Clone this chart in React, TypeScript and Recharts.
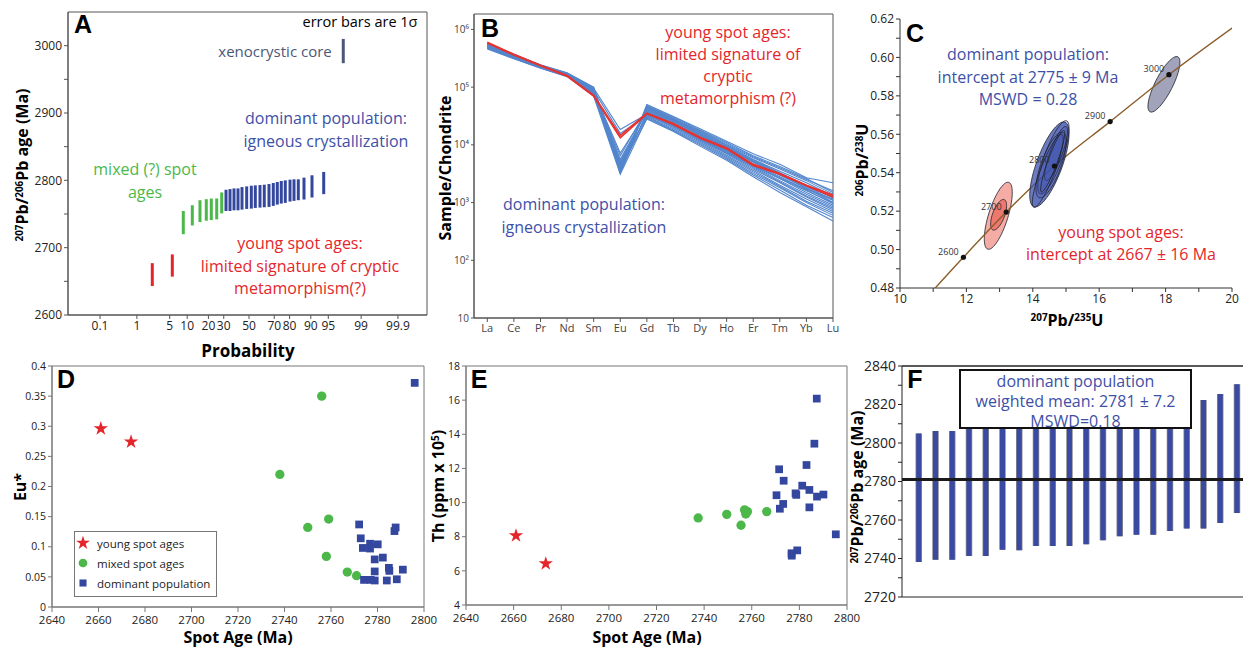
import React from 'react';
import {
  ScatterChart,
  Scatter,
  LineChart,
  Line,
  XAxis,
  YAxis,
  ErrorBar,
  ReferenceLine,
  ReferenceArea,
  Legend,
  Symbols,
} from 'recharts';

const FONT = '"Open Sans", "Noto Sans", sans-serif';
const LETTER_FONT = '"Liberation Sans", Arial, sans-serif';
const RED = '#e4262b';
const GREEN = '#4cb84a';
const BLUE = '#34479e';
const TEXT_BLUE = '#3d50a8';
const SLATE = '#4b5878';

// ---------- A: probability plot ----------
const PROB_LABELS = ['0.1', '1', '5', '10', '20', '30', '50', '70', '80', '90', '95', '99', '99.9'];
const PROB_Z = [-3.09, -2.326, -1.645, -1.282, -0.842, -0.524, 0, 0.524, 0.842, 1.282, 1.645, 2.326, 3.09];
const A_Y_TICKS = [2600, 2650, 2700, 2750, 2800, 2850, 2900, 2950, 3000];

const A_YOUNG_Z = [-2.006, -1.591];
const A_YOUNG_LOW = [2643, 2657];
const A_YOUNG_HIGH = [2677, 2690];

const A_MIXED_Z = [-1.363, -1.176, -1.017, -0.886, -0.782, -0.67, -0.566];
const A_MIXED_LOW = [2720, 2733, 2738, 2740, 2741, 2742, 2751];
const A_MIXED_HIGH = [2754.5, 2763, 2770.5, 2772, 2773, 2773, 2782];

const A_DOM_Z = [-0.477, -0.394, -0.311, -0.228, -0.145, -0.048, 0.048, 0.131, 0.228, 0.317, 0.415,
  0.504, 0.587, 0.67, 0.753, 0.851, 0.934, 1.023, 1.141, 1.307, 1.55];
const A_DOM_LOW = [2754.5, 2754.5, 2755.5, 2755.5, 2756.5, 2757.5, 2758, 2759, 2759.5, 2760, 2760.5,
  2762, 2764, 2765.5, 2766.5, 2768.5, 2769.5, 2770.5, 2771.5, 2774.5, 2779.5];
const A_DOM_HIGH = [2786, 2787, 2788, 2788, 2790, 2791, 2792, 2792.5, 2793, 2793.5, 2794.5,
  2796, 2797.5, 2799, 2800, 2801, 2801.5, 2801.5, 2804, 2807.5, 2812.5];

const A_XENO_Z = [1.956];
const A_XENO_LOW = [2974];
const A_XENO_HIGH = [3010];

// ---------- B: REE patterns ----------
const REE = ['La', 'Ce', 'Pr', 'Nd', 'Sm', 'Eu', 'Gd', 'Tb', 'Dy', 'Ho', 'Er', 'Tm', 'Yb', 'Lu'];
const B_Y_TICKS = [10, 100, 1000, 10000, 100000, 1000000];
const B_Y_LABELS = ['10', '10²', '10³', '10⁴', '10⁵', '10⁶'];

const B_BLUE = [
  [560000, 360000, 240000, 175000, 100000, 3200, 50000, 31000, 19000, 11500, 7000, 4600, 2700, 2200],
  [540000, 350000, 235000, 170000, 95000, 3500, 48000, 30000, 18000, 11000, 6500, 4200, 2600, 1500],
  [520000, 340000, 230000, 168000, 90000, 3800, 46000, 28000, 17000, 10000, 6000, 3800, 2400, 1400],
  [500000, 330000, 225000, 165000, 88000, 4000, 45000, 27000, 16000, 9500, 5600, 3500, 2200, 1300],
  [580000, 370000, 245000, 178000, 98000, 4200, 44000, 27500, 16500, 9800, 5500, 3300, 2000, 1200],
  [510000, 335000, 228000, 166000, 85000, 4500, 42000, 26000, 15000, 9000, 5200, 3100, 1900, 1100],
  [490000, 325000, 220000, 160000, 82000, 4800, 40000, 25000, 14500, 8600, 5000, 3000, 1800, 1000],
  [530000, 345000, 232000, 168000, 86000, 5200, 39000, 24000, 14000, 8200, 4700, 2800, 1650, 950],
  [550000, 355000, 238000, 172000, 92000, 5600, 38000, 23500, 13500, 8000, 4500, 2600, 1500, 900],
  [500000, 330000, 224000, 163000, 84000, 7200, 37000, 23000, 13000, 7600, 4200, 2400, 1400, 850],
  [480000, 320000, 218000, 158000, 80000, 3300, 36000, 22000, 12500, 7200, 4000, 2300, 1300, 800],
  [520000, 338000, 229000, 165000, 78000, 3600, 35000, 21000, 12000, 7000, 3800, 2200, 1250, 750],
  [505000, 332000, 226000, 162000, 76000, 4100, 33000, 20000, 11500, 6600, 3600, 2000, 1150, 700],
  [470000, 315000, 215000, 155000, 74000, 4400, 31000, 19000, 11000, 6300, 3400, 1900, 1050, 650],
  [490000, 322000, 219000, 158000, 72000, 5000, 30000, 18000, 10500, 6000, 3200, 1800, 1000, 600],
  [460000, 310000, 212000, 152000, 70000, 3100, 29000, 17500, 10000, 5700, 3000, 1650, 900, 550],
  [475000, 318000, 216000, 156000, 71000, 3900, 28000, 17000, 9500, 5400, 2800, 1500, 850, 480],
  [530000, 345000, 233000, 170000, 96000, 18500, 34000, 22000, 13000, 7800, 4400, 2700, 1700, 1100],
  [515000, 338000, 228000, 166000, 88000, 15800, 32000, 21000, 12500, 7400, 4300, 2600, 1600, 1000],
  [545000, 352000, 236000, 171000, 94000, 3400, 47000, 29000, 17500, 10500, 6200, 4000, 2500, 1600],
  [500000, 333000, 226000, 164000, 87000, 4300, 43000, 26500, 15500, 9200, 5300, 3200, 1900, 1250],
  [485000, 325000, 221000, 161000, 83000, 6500, 41000, 25500, 15200, 8800, 5100, 3000, 1750, 1150],
];
const B_RED = [
  [600000, 370000, 240000, 160000, 72000, 14500, 35500, 23500, 13500, 8800, 4600, 3200, 2000, 1350],
  [580000, 360000, 235000, 155000, 70000, 13200, 34500, 22500, 13000, 8500, 4400, 3100, 1950, 1250],
];

// ---------- C: concordia ----------
const C_X_TICKS = [10, 11, 12, 13, 14, 15, 16, 17, 18, 19, 20];
const C_Y_TICKS = [0.48, 0.49, 0.5, 0.51, 0.52, 0.53, 0.54, 0.55, 0.56, 0.57, 0.58, 0.59, 0.6, 0.61, 0.62];
const CONC_AGE = [2500, 2600, 2700, 2800, 2900, 3000, 3100];
const CONC_X = [10.73, 11.91, 13.2, 14.65, 16.33, 18.1, 20.18];
const CONC_Y = [0.4737, 0.496, 0.5195, 0.5435, 0.5666, 0.591, 0.6175];

// error ellipses: centre, major half-axis (ux, uy), minor half-axis (vx, vy)
type Ell = { cx: number; cy: number; ux: number; uy: number; vx: number; vy: number };
const C_XENO: Ell[] = [{ cx: 17.95, cy: 0.586, ux: 0.42, uy: 0.0143, vx: 0.235, vy: -0.0021 }];
const C_DOMINANT: Ell[] = [
  { cx: 14.5, cy: 0.5443, ux: 0.47, uy: 0.022, vx: 0.36, vy: -0.0024 },
  { cx: 14.62, cy: 0.548, ux: 0.4, uy: 0.019, vx: 0.25, vy: -0.0017 },
  { cx: 14.55, cy: 0.544, ux: 0.36, uy: 0.017, vx: 0.28, vy: -0.0019 },
  { cx: 14.7, cy: 0.55, ux: 0.3, uy: 0.014, vx: 0.17, vy: -0.0012 },
  { cx: 14.45, cy: 0.541, ux: 0.42, uy: 0.019, vx: 0.2, vy: -0.0014 },
  { cx: 14.6, cy: 0.546, ux: 0.34, uy: 0.016, vx: 0.13, vy: -0.0009 },
];
const C_YOUNG: Ell[] = [
  { cx: 12.96, cy: 0.5176, ux: 0.316, uy: 0.0174, vx: 0.279, vy: -0.0015 },
  { cx: 12.97, cy: 0.5181, ux: 0.17, uy: 0.0079, vx: 0.17, vy: -0.0011 },
];

// ---------- D / E: spot age vs chemistry ----------
const AGE_TICKS = [2640, 2660, 2680, 2700, 2720, 2740, 2760, 2780, 2800];
const D_Y_TICKS = [0, 0.05, 0.1, 0.15, 0.2, 0.25, 0.3, 0.35, 0.4];
const E_Y_TICKS = [4, 6, 8, 10, 12, 14, 16, 18];

const D_YOUNG_AGE = [2661, 2674];
const D_YOUNG_EU = [0.296, 0.274];
const D_MIXED_AGE = [2756, 2738, 2759, 2750, 2758, 2767, 2771];
const D_MIXED_EU = [0.35, 0.22, 0.146, 0.132, 0.084, 0.058, 0.052];
const D_DOM_AGE = [2772.1, 2772.8, 2773.7, 2774.2, 2776.8, 2776.8, 2777.1, 2778.8, 2778.8, 2778.8,
  2780.1, 2782.3, 2784, 2784.9, 2785.1, 2787.3, 2787.8, 2788.3, 2790.9, 2796];
const D_DOM_EU = [0.137, 0.114, 0.098, 0.045, 0.105, 0.097, 0.045, 0.079, 0.059, 0.044,
  0.104, 0.082, 0.044, 0.065, 0.06, 0.126, 0.132, 0.046, 0.062, 0.372];

const E_YOUNG_AGE = [2661, 2673.5];
const E_YOUNG_TH = [8.06, 6.42];
const E_MIXED_AGE = [2737.5, 2749.5, 2755.5, 2757, 2757.5, 2758.2, 2766.3];
const E_MIXED_TH = [9.1, 9.31, 8.67, 9.57, 9.33, 9.47, 9.47];
const E_DOM_AGE = [2787.3, 2786.3, 2783, 2771.5, 2773.4, 2781.2, 2770.4, 2778.4, 2778.7, 2784.2,
  2787.4, 2790.1, 2773.2, 2771.8, 2784.2, 2795.3, 2779.1, 2776.7, 2776.8];
const E_DOM_TH = [16.09, 13.45, 12.2, 11.95, 11.28, 10.99, 10.43, 10.54, 10.45, 10.74,
  10.35, 10.47, 9.92, 9.64, 9.72, 8.14, 7.2, 7.03, 6.89];

// ---------- F: weighted mean ----------
const F_Y_TICKS = [2720, 2730, 2740, 2750, 2760, 2770, 2780, 2790, 2800, 2810, 2820, 2830, 2840];
const F_LOW = [2738.2, 2739.4, 2739.4, 2741.3, 2741.3, 2744.6, 2744.3, 2746.5, 2746.5, 2746.5,
  2747.4, 2749.5, 2751.6, 2752.4, 2752.4, 2754.3, 2755.6, 2755.6, 2758.5, 2763.7];
const F_HIGH = [2805, 2806.2, 2806.2, 2807.8, 2807.8, 2811, 2811, 2813, 2813, 2813,
  2814, 2816, 2818, 2819, 2819, 2821, 2822, 2822.3, 2825.4, 2830.5];
const F_MEAN = 2781;

// ---------- helpers ----------
const bars = (xs: number[], low: number[], high: number[]) =>
  xs.map((x, i) => ({ x, y: low[i], err: [0, high[i] - low[i]] }));
const points = (xs: number[], ys: number[]) => xs.map((x, i) => ({ x, y: ys[i] }));
const outline = (e: Ell) => {
  const pts = [];
  for (let k = 0; k <= 64; k++) {
    const t = (k / 64) * Math.PI * 2;
    pts.push({ x: e.cx + e.ux * Math.cos(t) + e.vx * Math.sin(t), y: e.cy + e.uy * Math.cos(t) + e.vy * Math.sin(t) });
  }
  return pts;
};

const NoDot = () => <g />;
const tickStyle = (size: number, fill = '#222') => ({ fontSize: size, fill, fontFamily: FONT });

const Sup = ({ children }: { children: React.ReactNode }) => (
  <span style={{ fontSize: '0.62em', verticalAlign: '0.55em' }}>{children}</span>
);

type TProps = {
  x: number; y: number; size?: number; color?: string; bold?: boolean; rotate?: boolean;
  family?: string; children: React.ReactNode;
};
function T({ x, y, size = 16, color = '#000', bold, rotate, family = FONT, children }: TProps) {
  return (
    <div
      style={{
        position: 'absolute', left: x, top: y,
        transform: `translate(-50%, -50%)${rotate ? ' rotate(-90deg)' : ''}`,
        fontSize: size, color, fontWeight: bold ? 700 : 400, fontFamily: family,
        whiteSpace: 'nowrap', lineHeight: 1, pointerEvents: 'none',
      }}
    >
      {children}
    </div>
  );
}

const Letter = ({ x, y, children }: { x: number; y: number; children: React.ReactNode }) => (
  <T x={x} y={y} size={25} bold family={LETTER_FONT}>{children}</T>
);

// box around the plot area, drawn in data coordinates
const frame = (x: [number, number], y: [number, number], color: string) => (
  <ReferenceArea x1={x[0]} x2={x[1]} y1={y[0]} y2={y[1]} fill="none" stroke={color} strokeWidth={1} ifOverflow="visible" />
);

function PanelA() {
  const series = [
    { data: bars(A_YOUNG_Z, A_YOUNG_LOW, A_YOUNG_HIGH), color: RED },
    { data: bars(A_MIXED_Z, A_MIXED_LOW, A_MIXED_HIGH), color: GREEN },
    { data: bars(A_DOM_Z, A_DOM_LOW, A_DOM_HIGH), color: BLUE },
    { data: bars(A_XENO_Z, A_XENO_LOW, A_XENO_HIGH), color: SLATE },
  ];
  const xd: [number, number] = [-3.755, 3.693];
  const yd: [number, number] = [2600, 3050];
  return (
    <div style={{ position: 'absolute', left: 0, top: 0 }}>
      <ScatterChart width={440} height={360} margin={{ top: 12, right: 13, bottom: 15, left: 8 }}>
        <XAxis
          type="number" dataKey="x" domain={xd} allowDataOverflow ticks={PROB_Z} interval={0}
          tickFormatter={(v: number) => PROB_LABELS[PROB_Z.indexOf(v)] ?? ''}
          height={30} stroke="#555" tickSize={4} tick={tickStyle(12)}
        />
        <YAxis
          type="number" dataKey="y" domain={yd} allowDataOverflow ticks={A_Y_TICKS} interval={0}
          tickFormatter={(v: number) => (v % 100 === 0 ? String(v) : '')}
          width={60} stroke="#555" tickSize={4} tick={tickStyle(12)}
        />
        {frame(xd, yd, '#555')}
        {series.map((s, i) => (
          <Scatter key={i} data={s.data} fill={s.color} shape={NoDot} isAnimationActive={false}>
            <ErrorBar dataKey="err" direction="y" width={0} stroke={s.color} strokeWidth={3} isAnimationActive={false} />
          </Scatter>
        ))}
      </ScatterChart>
    </div>
  );
}

function PanelB() {
  const data = REE.map((el, i) => {
    const row: Record<string, number | string> = { x: i + 1, el };
    B_BLUE.forEach((s, k) => { row['b' + k] = s[i]; });
    B_RED.forEach((s, k) => { row['r' + k] = s[i]; });
    return row;
  });
  return (
    <div style={{ position: 'absolute', left: 430, top: 0 }}>
      <LineChart width={420} height={340} data={data} margin={{ top: 14, right: 17, bottom: 2, left: 10 }}>
        <XAxis
          type="number" dataKey="x" domain={[0.5, 14]} ticks={REE.map((_, i) => i + 1)} interval={0}
          tickFormatter={(v: number) => REE[v - 1] ?? ''}
          height={20} stroke="#555" tickSize={4} tick={tickStyle(11, '#444')}
        />
        <YAxis
          type="number" scale="log" domain={[10, 1850000]} allowDataOverflow ticks={B_Y_TICKS} interval={0}
          tickFormatter={(v: number) => B_Y_LABELS[B_Y_TICKS.indexOf(v)] ?? ''}
          width={34} stroke="#555" tickSize={3} tick={tickStyle(10, '#444')}
        />
        {frame([0.5, 14], [10, 1850000], '#555')}
        {B_BLUE.map((_, k) => (
          <Line key={'b' + k} type="linear" dataKey={'b' + k} stroke="#5386cc" strokeWidth={1.1} dot={false} isAnimationActive={false} />
        ))}
        {B_RED.map((_, k) => (
          <Line key={'r' + k} type="linear" dataKey={'r' + k} stroke="#e8322f" strokeWidth={1.6} dot={false} isAnimationActive={false} />
        ))}
      </LineChart>
    </div>
  );
}

const AgeMarker = (p: any) => (
  <g>
    <circle cx={p.cx} cy={p.cy} r={2.6} fill="#111" />
    <text x={p.cx - 15} y={p.cy - 2.5} fontSize={9} fill="#333" textAnchor="middle" fontFamily={FONT}>
      {p.payload.age}
    </text>
  </g>
);

function PanelC() {
  const conc = CONC_AGE.map((age, i) => ({ age, x: CONC_X[i], y: CONC_Y[i] }));
  const markers = conc.filter((c) => c.age >= 2600 && c.age <= 3000);
  const ell = (e: Ell, key: string, fill: string, opacity: number) => (
    <Scatter
      key={key} data={outline(e)} shape={NoDot} isAnimationActive={false}
      line={{ fill, fillOpacity: opacity, stroke: '#1f1f2a', strokeWidth: 0.8 }}
    />
  );
  return (
    <div style={{ position: 'absolute', left: 850, top: 0 }}>
      <ScatterChart width={393} height={340} margin={{ top: 19, right: 11, bottom: 32, left: 10 }}>
        <XAxis
          type="number" dataKey="x" domain={[10, 20]} allowDataOverflow ticks={C_X_TICKS} interval={0}
          tickFormatter={(v: number) => (v % 2 === 0 ? String(v) : '')}
          height={20} stroke="#333" tickSize={4} tick={tickStyle(12)}
        />
        <YAxis
          type="number" dataKey="y" domain={[0.48, 0.62]} allowDataOverflow ticks={C_Y_TICKS} interval={0}
          tickFormatter={(v: number) => (Math.round(v * 100) % 2 === 0 ? v.toFixed(2) : '')}
          width={40} stroke="#333" tickSize={4} tick={tickStyle(12)}
        />
        {C_XENO.map((e, i) => ell(e, 'x' + i, '#8f93ae', 0.85))}
        {ell(C_YOUNG[0], 'y0', '#f4a39b', 0.9)}
        {ell(C_YOUNG[1], 'y1', '#e8675c', 0.75)}
        <Scatter data={conc} shape={NoDot} isAnimationActive={false} line={{ stroke: '#8b5e2b', strokeWidth: 1.4 }} lineJointType="monotoneX" />
        {C_DOMINANT.map((e, i) => ell(e, 'd' + i, '#3d52ad', i === 0 ? 0.75 : 0.22))}
        <Scatter data={markers} shape={AgeMarker} isAnimationActive={false} />
      </ScatterChart>
    </div>
  );
}

const LEGEND_ITEMS = [
  { label: 'young spot ages', type: 'star', color: RED, size: 60 },
  { label: 'mixed spot ages', type: 'circle', color: GREEN, size: 60 },
  { label: 'dominant population', type: 'square', color: BLUE, size: 50 },
];

const starShape = (p: any) => <Symbols cx={p.cx} cy={p.cy} type="star" size={64} fill={RED} />;
const circleShape = (p: any) => <Symbols cx={p.cx} cy={p.cy} type="circle" size={68} fill={GREEN} />;
const squareShape = (p: any) => <Symbols cx={p.cx} cy={p.cy} type="square" size={60} fill={BLUE} />;

const LegendBox = () => (
  <div
    style={{
      width: 143, height: 66, boxSizing: 'border-box', border: '1px solid #777', background: '#fff',
      paddingTop: 1, fontFamily: FONT, fontSize: 11.5, color: '#222',
    }}
  >
    {LEGEND_ITEMS.map((it) => (
      <div key={it.label} style={{ display: 'flex', alignItems: 'center', height: 20 }}>
        <svg width={16} height={16}>
          <Symbols cx={8} cy={8} type={it.type as any} size={it.size} fill={it.color} />
        </svg>
        <span style={{ marginLeft: 6 }}>{it.label}</span>
      </div>
    ))}
  </div>
);

function AgeScatter({
  left, width, margin, yDomain, yTicks, yWidth, young, mixed, dom, legend,
}: {
  left: number; width: number; margin: { top: number; right: number; bottom: number; left: number };
  yDomain: [number, number]; yTicks: number[]; yWidth: number;
  young: { x: number; y: number }[]; mixed: { x: number; y: number }[]; dom: { x: number; y: number }[];
  legend?: boolean;
}) {
  return (
    <div style={{ position: 'absolute', left, top: 360 }}>
      <ScatterChart width={width} height={289} margin={margin}>
        <XAxis
          type="number" dataKey="x" domain={[2640, 2800]} allowDataOverflow ticks={AGE_TICKS} interval={0}
          height={22} stroke="#777" tickSize={5} tickMargin={4} tick={tickStyle(11.5)}
        />
        <YAxis
          type="number" dataKey="y" domain={yDomain} allowDataOverflow ticks={yTicks} interval={0}
          width={yWidth} stroke="#777" tickSize={4} tick={tickStyle(10.5)}
        />
        {frame([2640, 2800], yDomain, '#777')}
        <Scatter name="young spot ages" data={young} fill={RED} shape={starShape} isAnimationActive={false} />
        <Scatter name="mixed spot ages" data={mixed} fill={GREEN} shape={circleShape} isAnimationActive={false} />
        <Scatter name="dominant population" data={dom} fill={BLUE} shape={squareShape} isAnimationActive={false} />
        {legend && (
          <Legend
            layout="horizontal" verticalAlign="middle" align="center"
            wrapperStyle={{ left: 74, top: 171, width: 143, height: 66 }}
            content={() => <LegendBox />}
          />
        )}
      </ScatterChart>
    </div>
  );
}

function PanelF() {
  const data = bars(F_LOW.map((_, i) => i + 1), F_LOW, F_HIGH);
  return (
    <div style={{ position: 'absolute', left: 850, top: 350 }}>
      <ScatterChart width={393} height={299} margin={{ top: 16, right: 0, bottom: 50, left: 12 }}>
        <XAxis type="number" dataKey="x" domain={[0, 20.36]} allowDataOverflow tick={false} tickLine={false} height={2} stroke="#222" />
        <YAxis
          type="number" dataKey="y" domain={[2720, 2840]} allowDataOverflow ticks={F_Y_TICKS} interval={0}
          tickFormatter={(v: number) => (v % 20 === 0 ? String(v) : '')}
          width={40} stroke="#222" tickSize={4} tick={tickStyle(14)}
        />
        <Scatter data={data} shape={NoDot} isAnimationActive={false}>
          <ErrorBar dataKey="err" direction="y" width={0} stroke="#8a8a8a" strokeWidth={6.5} isAnimationActive={false} />
          <ErrorBar dataKey="err" direction="y" width={0} stroke="#3a4aa3" strokeWidth={5} isAnimationActive={false} />
        </Scatter>
        <ReferenceLine y={2840} stroke="#222" strokeWidth={1.5} />
        <ReferenceLine y={F_MEAN} stroke="#1a1a1a" strokeWidth={3} />
      </ScatterChart>
    </div>
  );
}

export default function App() {
  return (
    <div style={{ position: 'absolute', left: 0, top: 0, width: 1243, height: 649, background: '#fff', overflow: 'hidden', fontFamily: FONT }}>
      <PanelA />
      <PanelB />
      <PanelC />
      <AgeScatter
        left={0} width={440} margin={{ top: 6, right: 16, bottom: 20, left: 16 }}
        yDomain={[0, 0.4]} yTicks={D_Y_TICKS} yWidth={36}
        young={points(D_YOUNG_AGE, D_YOUNG_EU)} mixed={points(D_MIXED_AGE, D_MIXED_EU)} dom={points(D_DOM_AGE, D_DOM_EU)}
        legend
      />
      <AgeScatter
        left={430} width={440} margin={{ top: 6, right: 23, bottom: 22, left: 10 }}
        yDomain={[4, 18]} yTicks={E_Y_TICKS} yWidth={26}
        young={points(E_YOUNG_AGE, E_YOUNG_TH)} mixed={points(E_MIXED_AGE, E_MIXED_TH)} dom={points(E_DOM_AGE, E_DOM_TH)}
      />
      <PanelF />

      {/* panel A text */}
      <Letter x={83} y={24}>A</Letter>
      <T x={360} y={22} size={14.5}>error bars are 1σ</T>
      <T x={275} y={51} size={15} color={SLATE}>xenocrystic core</T>
      <T x={326} y={118} color={TEXT_BLUE}>dominant population:</T>
      <T x={326} y={141} color={TEXT_BLUE}>igneous crystallization</T>
      <T x={145} y={169} color={GREEN}>mixed (?) spot</T>
      <T x={145} y={192} color={GREEN}>ages</T>
      <T x={300} y={243} color={RED}>young spot ages:</T>
      <T x={300} y={266} color={RED}>limited signature of cryptic</T>
      <T x={300} y={288} color={RED}>metamorphism(?)</T>
      <T x={22} y={165} size={16} bold rotate><Sup>207</Sup>Pb/<Sup>206</Sup>Pb age (Ma)</T>
      <T x={248} y={350} size={17} bold>Probability</T>

      {/* panel B text */}
      <Letter x={490} y={28}>B</Letter>
      <T x={728} y={32} color={RED}>young spot ages:</T>
      <T x={728} y={54} color={RED}>limited signature of</T>
      <T x={728} y={76} color={RED}>cryptic</T>
      <T x={728} y={98} color={RED}>metamorphism (?)</T>
      <T x={584} y={204} color={TEXT_BLUE}>dominant population:</T>
      <T x={584} y={227} color={TEXT_BLUE}>igneous crystallization</T>
      <T x={445} y={168} size={16} bold rotate>Sample/Chondrite</T>

      {/* panel C text */}
      <Letter x={915} y={33}>C</Letter>
      <T x={1028} y={54} color={TEXT_BLUE}>dominant population:</T>
      <T x={1028} y={77} color={TEXT_BLUE}>intercept at 2775 ± 9 Ma</T>
      <T x={1028} y={99} color={TEXT_BLUE}>MSWD = 0.28</T>
      <T x={1121} y={232} color={RED}>young spot ages:</T>
      <T x={1121} y={254} color={RED}>intercept at 2667 ± 16 Ma</T>
      <T x={862} y={160} size={16} bold rotate><Sup>206</Sup>Pb/<Sup>238</Sup>U</T>
      <T x={1067} y={320} size={16} bold><Sup>207</Sup>Pb/<Sup>235</Sup>U</T>

      {/* panel D / E text */}
      <Letter x={66} y={379}>D</Letter>
      <T x={20} y={487} size={16} bold rotate>Eu*</T>
      <T x={238} y={637} size={16} bold>Spot Age (Ma)</T>
      <Letter x={479} y={379}>E</Letter>
      <T x={438} y={486} size={16} bold rotate>Th (ppm x 10<Sup>5</Sup>)</T>
      <T x={647} y={637} size={16} bold>Spot Age (Ma)</T>

      {/* panel F text */}
      <Letter x={915} y={379}>F</Letter>
      <T x={857} y={487} size={16} bold rotate><Sup>207</Sup>Pb/<Sup>206</Sup>Pb age (Ma)</T>
      <div
        style={{
          position: 'absolute', left: 959, top: 369, width: 233, height: 60, boxSizing: 'border-box',
          border: '2px solid #111', background: '#fff', color: TEXT_BLUE, fontFamily: FONT, fontSize: 16,
          lineHeight: '20px', textAlign: 'center',
        }}
      >
        <div>dominant population</div>
        <div>weighted mean: 2781 ± 7.2</div>
        <div>MSWD=0.18</div>
      </div>
    </div>
  );
}
